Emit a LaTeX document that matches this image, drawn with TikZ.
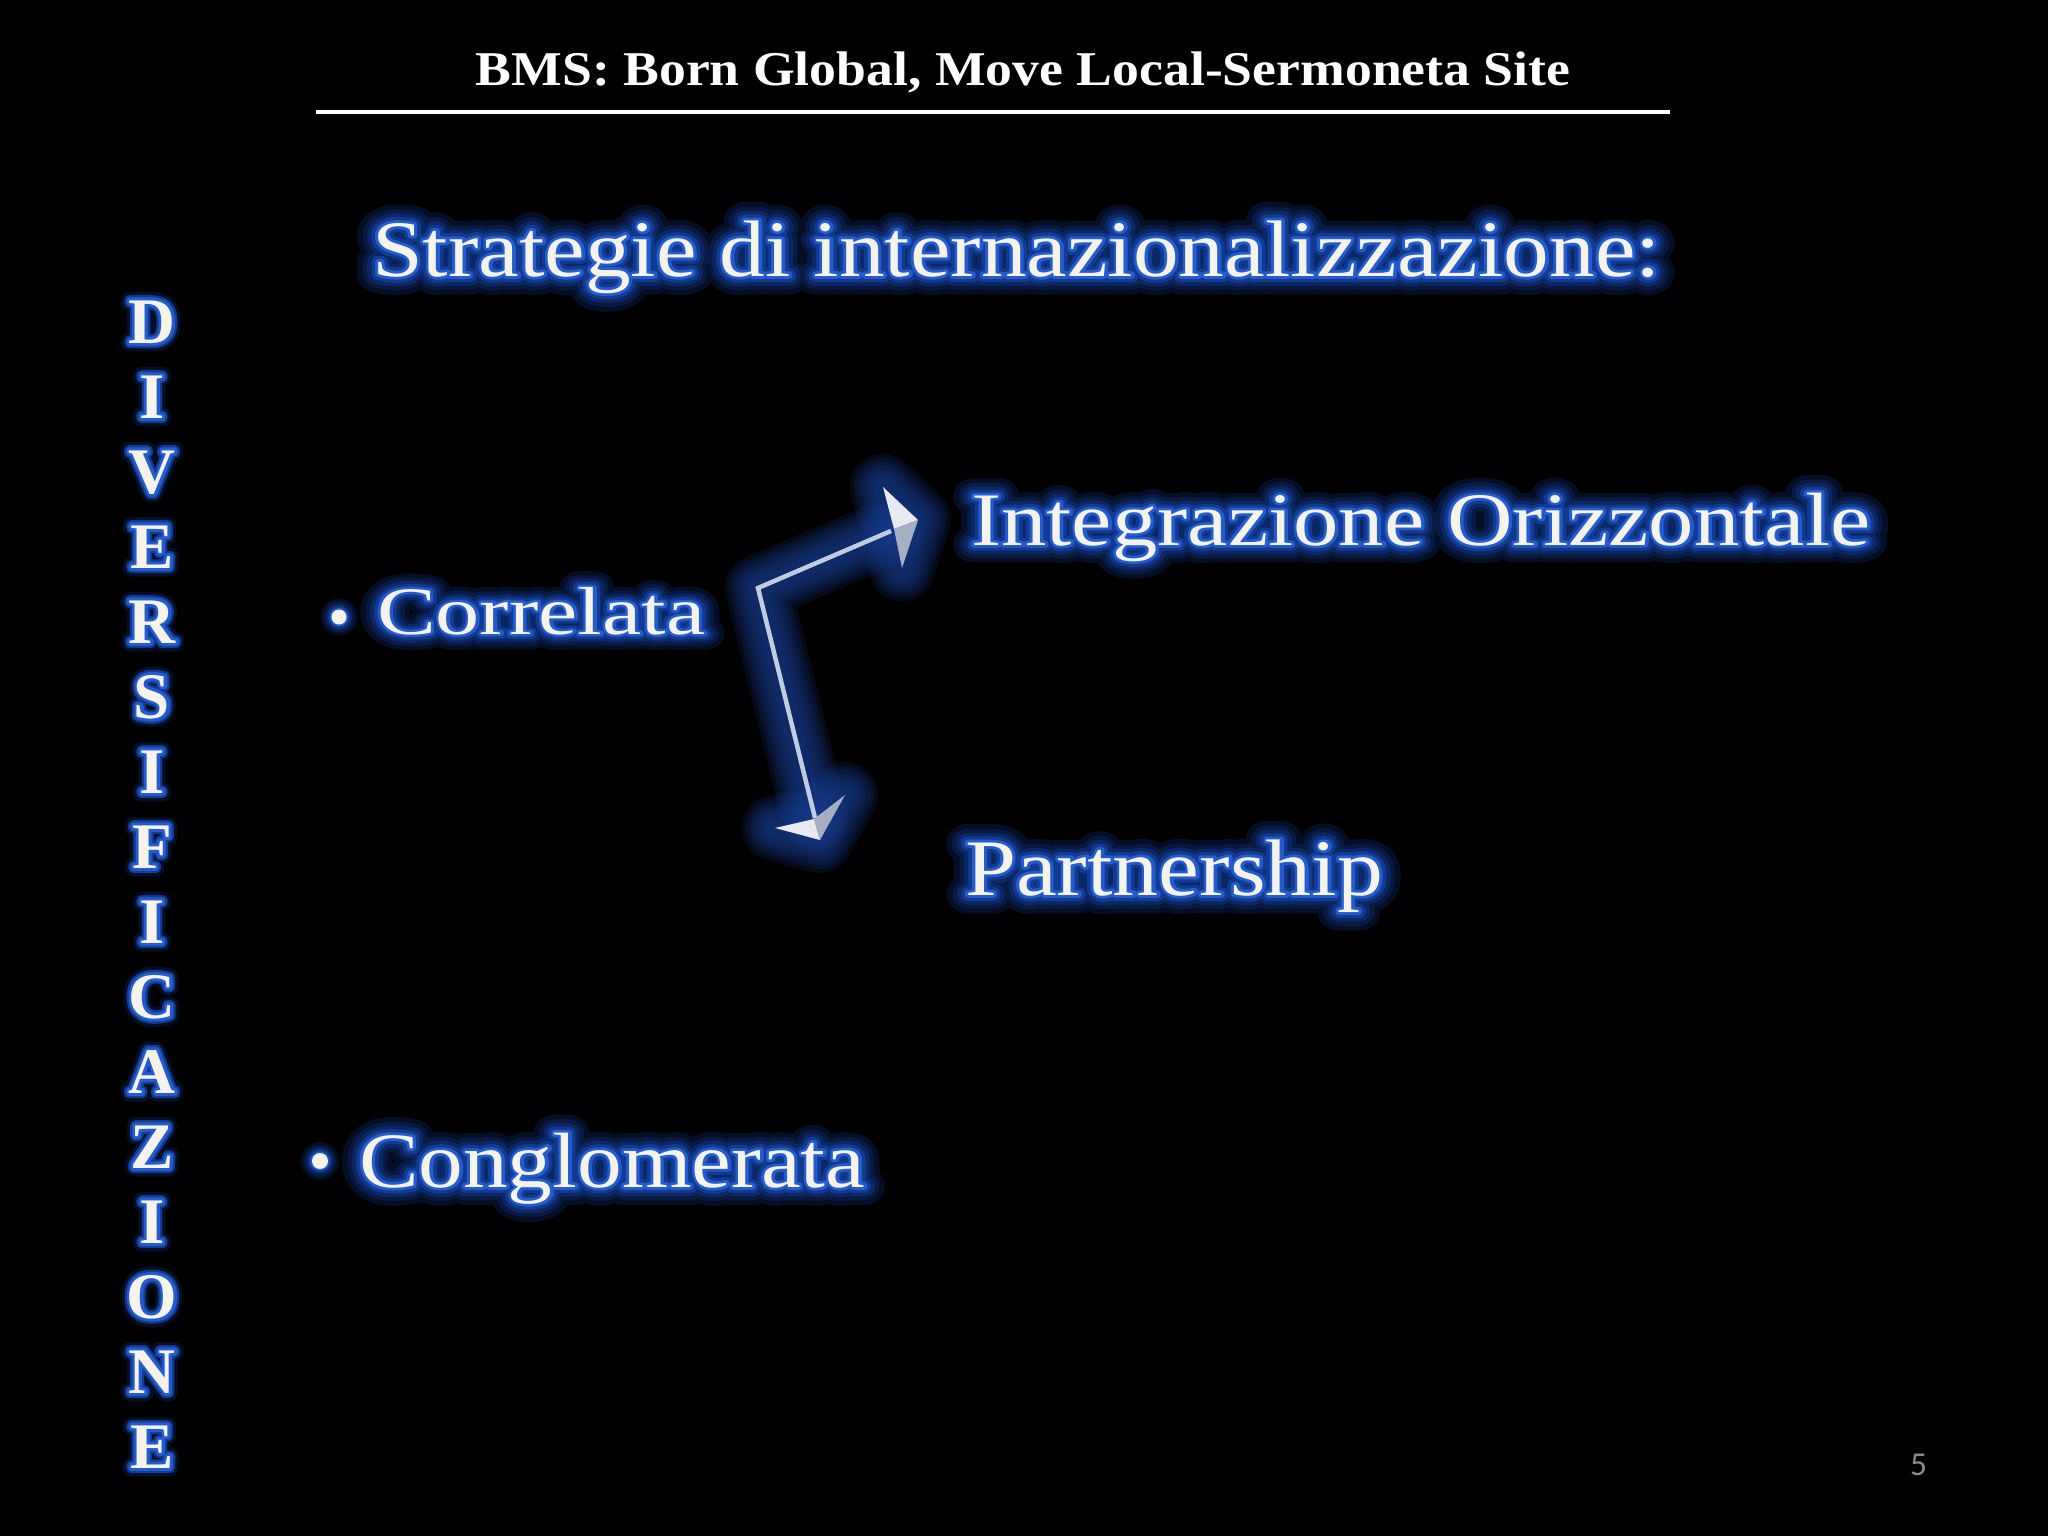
\documentclass[tikz,border=0pt]{standalone}
\usepackage{fontspec}
\setmainfont{Liberation Serif}
\newfontfamily\numfont{Carlito}
\newfontfamily\gfA[FakeBold=46]{Liberation Serif}
\newfontfamily\gfB[FakeBold=34]{Liberation Serif}
\newfontfamily\gfC[FakeBold=24]{Liberation Serif}
\newfontfamily\gfD[FakeBold=15]{Liberation Serif}
\newfontfamily\gfE[FakeBold=7]{Liberation Serif}
\newfontfamily\vfB{Liberation Serif Bold}
\newfontfamily\vfA[FakeBold=26]{Liberation Serif Bold}
\newfontfamily\vfC[FakeBold=16]{Liberation Serif Bold}
\newfontfamily\vfD[FakeBold=9]{Liberation Serif Bold}
\usepackage{graphicx}
\definecolor{textw}{RGB}{246,244,234}
\definecolor{glowA}{RGB}{4,14,36}
\definecolor{glowB}{RGB}{8,26,66}
\definecolor{glowC}{RGB}{12,40,100}
\definecolor{glowD}{RGB}{18,58,142}
\definecolor{glowE}{RGB}{34,92,208}
\definecolor{aglow}{RGB}{24,62,145}
\definecolor{shaftc}{RGB}{192,205,225}
\definecolor{headl}{RGB}{232,234,240}
\definecolor{headd}{RGB}{165,175,195}
\definecolor{pagenum}{RGB}{140,140,140}
\newdimen\gw
\newcommand\rj{\special{pdf:literal direct 1 j 1 J}}
% #1 target width, #2 font size (pt), #3 text
\newcommand\gtext[3]{\begingroup\rj\fontsize{#2}{#2}\selectfont
\setbox0=\hbox{#3}\gw=\wd0
\pgfmathsetmacro\gr{#1/\the\gw}%
\scalebox{\gr}[1]{\rlap{\gfA\color{glowA}#3}\rlap{\gfB\color{glowB}#3}\rlap{\gfC\color{glowC}#3}\rlap{\gfD\color{glowD}#3}\rlap{\gfE\color{glowE}#3}\color{textw}#3}%
\endgroup}
% vertical letter
\newcommand\vlet[1]{\begingroup\rj\fontsize{18.5}{18.5}\selectfont
\rlap{\vfA\color{glowA}#1}\rlap{\vfC\color{glowD}#1}\rlap{\vfD\color{glowE}#1}{\vfB\color{textw}#1}%
\endgroup}
\begin{document}
\begin{tikzpicture}[x=0.01cm,y=-0.01cm,
  txt/.style={inner sep=0pt,outer sep=0pt,anchor=base west,line join=round},
  vl/.style={inner sep=0pt,outer sep=0pt,anchor=base,line join=round}]
\useasboundingbox (0,0) rectangle (2048,1536);
\fill[black] (0,0) rectangle (2048,1536);

% title
\node[vl,text=white] (title) at (1023,85)
  {\fontsize{13.8}{14}\bfseries\selectfont\setbox0=\hbox{BMS: Born Global, Move Local-Sermoneta Site}\gw=\wd0\pgfmathsetmacro\gr{10.94cm/\the\gw}\scalebox{\gr}[1]{\usebox0}};
\coordinate (ruleL) at (316,112);
\coordinate (ruleR) at (1670,112);
\draw[white,line width=0.04cm] (ruleL) -- (ruleR);

% heading
\node[txt] (head) at (372,276) {\gtext{12.88cm}{22.8}{Strategie di internazionalizzazione:}};

% vertical word
\foreach \l [count=\i from 0] in {D,I,V,E,R,S,I,F,I,C,A,Z,I,O,N,E}
  \node[vl] (v\i) at (152,{343+75*\i}) {\vlet{\l}};

% bullets
\coordinate (b1) at (339,617);
\coordinate (b2) at (320,1161);
\foreach \b/\r in {b1/7.5,b2/8}{
  \fill[glowA] (\b) circle ({\r+11});
  \fill[glowB] (\b) circle ({\r+8});
  \fill[glowC] (\b) circle ({\r+5.5});
  \fill[glowD] (\b) circle ({\r+3.4});
  \fill[glowE] (\b) circle ({\r+1.6});
  \fill[textw] (\b) circle (\r);
}

\node[txt] (correlata) at (377,634) {\gtext{3.28cm}{19.3}{Correlata}};
\node[txt] (integr) at (971,545) {\gtext{8.99cm}{21.5}{Integrazione Orizzontale}};
\node[txt] (partner) at (965,895) {\gtext{4.18cm}{22.8}{Partnership}};
\node[txt] (conglo) at (359,1187) {\gtext{5.06cm}{22.3}{Conglomerata}};

% arrow
\coordinate (corner) at (758,588);
\coordinate (endA) at (891,531);
\coordinate (endB) at (815,818);
\coordinate (tipA) at (918,520);
\coordinate (a1) at (883,487);
\coordinate (a2) at (902,568);
\coordinate (an) at (894,529);
\coordinate (tipB) at (820,840);
\coordinate (c1) at (775,828);
\coordinate (c2) at (845,795);
\coordinate (cn) at (814,819);
\foreach \w in {66,58,50,42,34,26,18}{
  \draw[aglow,opacity=0.17,line width=\w*0.01cm,line join=round,line cap=round] (endA) -- (corner) -- (endB);
  \filldraw[aglow,opacity=0.17,line width=\w*0.01cm,line join=round] (tipA) -- (a1) -- (an) -- (a2) -- cycle;
  \filldraw[aglow,opacity=0.17,line width=\w*0.01cm,line join=round] (tipB) -- (c1) -- (cn) -- (c2) -- cycle;
}
\draw[shaftc,line width=0.045cm,line join=miter] (endA) -- (corner) -- (endB);
\fill[headl] (tipA) -- (a1) -- (an) -- cycle;
\fill[headd] (tipA) -- (an) -- (a2) -- cycle;
\fill[headl] (tipB) -- (c1) -- (cn) -- cycle;
\fill[headd] (tipB) -- (cn) -- (c2) -- cycle;

% page number
\node[txt,text=pagenum] (pnum) at (1910,1475) {\numfont\fontsize{9.5}{10}\selectfont 5};
\end{tikzpicture}
\end{document}
